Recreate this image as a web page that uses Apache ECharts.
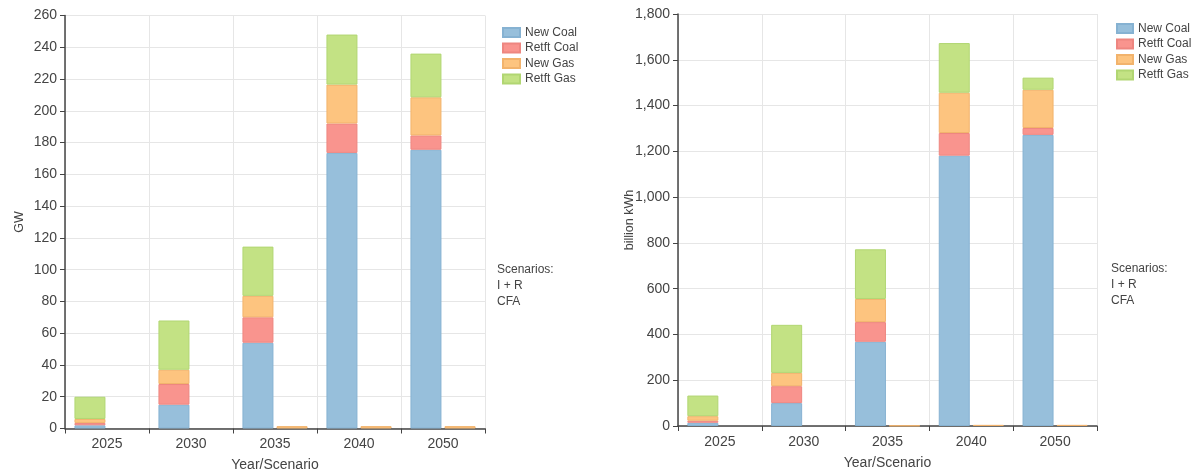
<!DOCTYPE html>
<html><head><meta charset="utf-8">
<script src="https://cdn.jsdelivr.net/npm/echarts@6/dist/echarts.min.js"></script>
<style>html,body{margin:0;padding:0;background:#fff}#c{width:1195px;height:475px}</style>
</head><body><div id="c"></div>
<script>
// ---- data ----
const years = ['2025', '2030', '2035', '2040', '2050'];
const seriesNames = ['New Coal', 'Retft Coal', 'New Gas', 'Retft Gas'];
const scenarioNote = ['Scenarios:', 'I + R', 'CFA'];

// Capacity (GW), scenario I + R
const gwNewCoalIR   = [2, 15, 54, 173.5, 175.5];
const gwRetftCoalIR = [1.5, 13, 16, 18.5, 9];
const gwNewGasIR    = [2.5, 9, 13.5, 24.5, 24];
const gwRetftGasIR  = [14, 31, 31, 31.5, 27.5];
// Capacity (GW), scenario CFA
const gwNewGasCFA   = [null, null, 1.5, 1.5, 1.5];

// Generation (billion kWh), scenario I + R
const kwhNewCoalIR   = [14, 100, 368, 1181, 1272];
const kwhRetftCoalIR = [9, 74, 86, 99, 30];
const kwhNewGasIR    = [20, 58, 101, 176, 167];
const kwhRetftGasIR  = [90, 210, 217, 217, 53];
// Generation (billion kWh), scenario CFA
const kwhNewGasCFA   = [null, null, 2, 5, 5];

// ---- styles ----
const fills   = ['#97bfdb', '#f9948e', '#fdc47f', '#c3e284'];
const borders = ['#86b2d2', '#ee8680', '#f2b36c', '#b1d672'];
const FONT = "'Liberation Sans', Arial, sans-serif";
const TXT = '#444';

function bar(name, idx, data, axisIdx, stack) {
  return {
    type: 'bar', name: name, data: data,
    xAxisIndex: axisIdx, yAxisIndex: axisIdx, stack: stack,
    barWidth: 31, barGap: '10%',
    itemStyle: { color: fills[idx], borderColor: borders[idx], borderWidth: 1 },
    emphasis: { disabled: true }
  };
}

const gwIR = [gwNewCoalIR, gwRetftCoalIR, gwNewGasIR, gwRetftGasIR];
const kwhIR = [kwhNewCoalIR, kwhRetftCoalIR, kwhNewGasIR, kwhRetftGasIR];

const series = [];
seriesNames.forEach((n, i) => series.push(bar(n, i, gwIR[i], 0, 'ir0')));
series.push(bar('New Gas', 2, gwNewGasCFA, 0, 'cfa0'));
seriesNames.forEach((n, i) => series.push(bar(n, i, kwhIR[i], 1, 'ir1')));
series.push(bar('New Gas', 2, kwhNewGasCFA, 1, 'cfa1'));

function xAxis(gi) {
  return {
    type: 'category', gridIndex: gi, data: years,
    name: 'Year/Scenario', nameLocation: 'middle', nameGap: 30,
    nameTextStyle: { fontSize: 14, color: TXT, fontFamily: FONT },
    axisLine: { show: true, lineStyle: { color: '#444', width: 1.5 } },
    axisTick: { show: true, length: 5, lineStyle: { color: '#444' } },
    axisLabel: { fontSize: 14, color: TXT, fontFamily: FONT, margin: 9 },
    splitLine: { show: true, lineStyle: { color: '#e6e6e6' } }
  };
}
function yAxis(gi, max, interval, name, gap) {
  return {
    type: 'value', gridIndex: gi, min: 0, max: max, interval: interval,
    name: name, nameLocation: 'middle', nameGap: gap, nameMoveOverlap: false,
    nameTextStyle: { fontSize: 12.5, color: TXT, fontFamily: FONT },
    axisLine: { show: true, lineStyle: { color: '#444', width: 1.5 } },
    axisTick: { show: true, length: 5, lineStyle: { color: '#444' } },
    axisLabel: { fontSize: 14, color: TXT, fontFamily: FONT, margin: 8,
      formatter: v => v.toLocaleString('en-US') },
    splitLine: { show: true, lineStyle: { color: '#e6e6e6' } }
  };
}
function legend(left, top, w) {
  return {
    orient: 'vertical', left: left, top: top, data: seriesNames,
    itemWidth: w, itemHeight: 9, itemGap: 3.5, icon: 'rect',
    textStyle: { fontSize: 12, color: TXT, fontFamily: FONT, padding: [0, 0, 0, 0] },
    selectedMode: true, padding: 0
  };
}
function note(x, y) {
  return {
    type: 'text', left: x, top: y, silent: true,
    style: { text: scenarioNote.join('\n'), font: '12px ' + FONT, fill: TXT, lineHeight: 16 }
  };
}

const chart = echarts.init(document.getElementById('c'), null, { renderer: 'canvas' });
chart.setOption({
  animation: false,
  backgroundColor: '#fff',
  grid: [
    { left: 65, top: 15.5, width: 420, height: 413, outerBoundsMode: 'none', containLabel: false },
    { left: 678, top: 14, width: 419, height: 412, outerBoundsMode: 'none', containLabel: false }
  ],
  xAxis: [xAxis(0), xAxis(1)],
  yAxis: [yAxis(0, 260, 20, 'GW', 39), yAxis(1, 1800, 200, 'billion kWh', 42)],
  legend: [legend(502, 26.5, 17), legend(1116, 22.5, 16)],
  graphic: [note(497, 262), note(1111, 261)],
  series: series
});
</script></body></html>
